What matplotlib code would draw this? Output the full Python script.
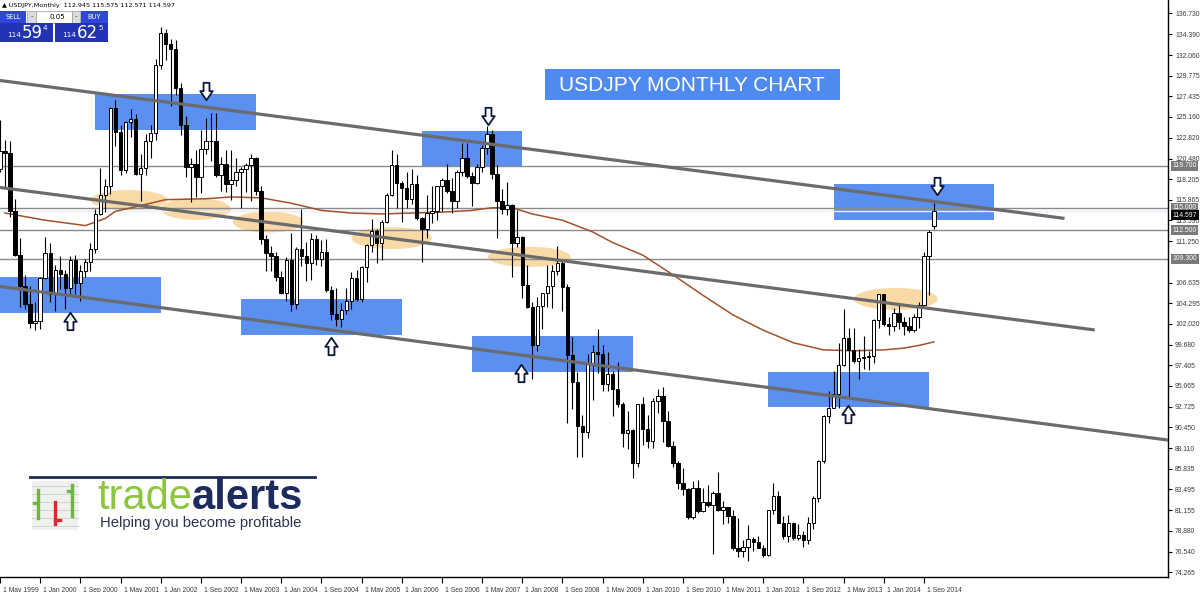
import matplotlib
matplotlib.use('Agg')
import matplotlib.pyplot as plt
from matplotlib.patches import Rectangle, Ellipse
from matplotlib.path import Path
from matplotlib import transforms
import numpy as np
import pandas as pd

plt.rcParams['font.family'] = ['DejaVu Sans']

# USDJPY monthly candles, May 1999 .. Nov 2014
months = pd.date_range('1999-05-01', '2014-11-01', freq='MS')
opens = [
    119.3, 121.3, 121.1, 114.6, 109.7, 106.2, 104.2, 102.1,
    102.3, 107.1, 109.9, 105.4, 108.0, 107.6, 106.0, 109.2, 106.6, 107.9, 108.9, 110.4,
    114.3, 116.4, 117.4, 126.1, 123.5, 119.2, 124.6, 124.9, 118.8, 119.4, 122.4, 123.3,
    131.0, 134.5, 133.3, 132.7, 128.4, 124.2, 119.6, 119.9, 118.4, 121.6, 122.4, 122.5,
    118.7, 119.9, 117.7, 118.1, 119.0, 119.3, 119.8, 120.6, 116.9, 111.5, 109.9, 109.6,
    107.2, 105.5, 109.1, 104.2, 110.4, 109.6, 108.8, 111.5, 109.3, 110.1, 105.8, 103.1,
    102.6, 103.6, 104.6, 107.1, 104.8, 108.4, 110.8, 112.4, 111.1, 113.4, 116.4, 119.8,
    117.8, 117.2, 116.0, 117.7, 113.9, 112.6, 114.4, 114.6, 117.4, 118.1, 116.9, 115.8,
    119.0, 120.6, 118.5, 117.8, 119.5, 121.7, 123.2, 118.8, 115.8, 114.9, 115.3, 111.1,
    111.7, 106.4, 103.9, 99.7, 104.0, 105.5, 106.2, 107.9, 108.8, 106.1, 98.5, 95.5,
    90.6, 89.9, 97.6, 98.9, 98.6, 95.3, 96.4, 94.7, 93.0, 89.8, 90.1, 86.4,
    93.0, 90.3, 88.9, 93.4, 94.0, 91.2, 88.4, 86.4, 84.2, 83.5, 80.4, 83.7,
    81.1, 82.1, 81.8, 83.1, 81.2, 81.5, 80.5, 77.0, 76.6, 77.1, 78.0, 77.6,
    76.9, 76.2, 81.2, 82.8, 79.8, 78.3, 79.8, 78.1, 78.4, 77.9, 79.8, 82.5,
    86.7, 91.7, 92.6, 94.2, 97.4, 100.4, 99.1, 97.9, 98.2, 98.3, 98.4, 102.4,
    105.3, 102.0, 101.8, 103.2, 102.2, 101.8, 101.3, 102.8, 104.1, 109.6, 112.945,
]
highs = [
    124.8, 122.6, 122.5, 116.0, 111.6, 107.5, 106.2, 104.5,
    107.3, 111.7, 111.0, 108.6, 109.6, 108.0, 109.6, 109.7, 108.6, 109.3, 111.0, 114.8,
    119.4, 118.2, 126.3, 127.0, 124.2, 124.7, 126.0, 125.5, 121.0, 123.2, 124.2, 131.6,
    135.2, 135.0, 133.9, 133.7, 128.9, 125.3, 120.6, 121.4, 123.7, 125.0, 125.6, 125.6,
    120.7, 121.4, 121.4, 120.6, 119.5, 120.0, 121.0, 120.7, 117.4, 112.0, 110.7, 110.0,
    107.9, 109.5, 112.2, 110.6, 114.9, 111.2, 112.2, 111.9, 111.4, 111.5, 106.3, 106.0,
    104.3, 106.0, 107.8, 108.0, 108.5, 110.9, 113.7, 112.6, 113.6, 116.6, 121.4, 121.0,
    118.0, 119.0, 119.3, 118.6, 114.0, 116.4, 117.4, 117.4, 118.3, 119.9, 118.3, 119.2,
    122.2, 122.2, 119.0, 119.9, 122.0, 124.1, 123.7, 119.8, 117.1, 117.9, 115.4, 114.7,
    111.8, 108.6, 104.4, 105.0, 105.5, 108.6, 108.6, 110.7, 109.3, 106.5, 100.5, 96.6,
    91.8, 98.6, 99.7, 101.4, 99.6, 98.9, 96.7, 97.8, 93.3, 92.3, 90.3, 93.1,
    93.8, 91.8, 93.7, 94.7, 94.9, 92.3, 88.9, 86.7, 85.9, 83.7, 84.4, 84.5,
    83.7, 84.0, 83.3, 85.5, 82.2, 81.5, 81.2, 80.3, 77.9, 79.5, 78.2, 78.3,
    77.3, 81.2, 84.2, 83.3, 80.5, 80.6, 79.9, 79.6, 78.8, 80.4, 82.8, 86.8,
    91.8, 94.5, 96.7, 99.9, 103.7, 101.5, 101.5, 99.2, 100.6, 99.0, 102.6, 105.4,
    105.4, 102.8, 103.8, 104.1, 102.8, 102.8, 103.1, 104.5, 110.1, 112.5, 115.575,
]
lows = [
    119.0, 117.3, 114.0, 109.6, 103.9, 103.7, 101.5, 101.3,
    101.4, 107.0, 104.5, 103.4, 105.9, 103.7, 105.3, 105.3, 104.6, 107.3, 107.9, 109.9,
    114.2, 114.5, 116.5, 121.9, 118.6, 118.9, 122.9, 118.6, 115.8, 118.6, 120.5, 122.6,
    130.5, 131.5, 126.4, 127.6, 123.1, 118.4, 115.6, 116.2, 116.6, 121.0, 120.2, 118.4,
    116.9, 116.8, 115.9, 117.4, 115.0, 116.7, 115.7, 116.4, 110.9, 107.9, 107.9, 106.8,
    105.3, 104.6, 103.4, 103.7, 108.5, 106.8, 106.9, 108.6, 108.5, 105.6, 102.4, 101.8,
    101.7, 103.1, 103.7, 104.6, 104.4, 106.7, 110.1, 108.8, 109.2, 113.3, 116.3, 115.0,
    113.4, 115.0, 115.4, 113.6, 108.9, 111.6, 113.3, 113.6, 114.6, 116.6, 114.4, 115.0,
    118.5, 118.3, 115.2, 117.6, 119.0, 121.0, 118.2, 111.6, 114.3, 114.2, 107.2, 110.6,
    104.9, 103.8, 95.8, 99.0, 101.4, 103.9, 103.8, 107.5, 103.5, 90.9, 92.5, 87.1,
    87.1, 89.3, 93.5, 96.5, 94.5, 94.5, 91.7, 92.7, 88.2, 88.0, 84.8, 86.0,
    88.5, 88.1, 88.1, 92.0, 88.8, 88.2, 86.0, 83.6, 82.9, 80.2, 80.2, 80.9,
    81.0, 81.5, 76.3, 81.1, 79.6, 79.7, 76.7, 75.9, 75.9, 75.5, 76.6, 76.9,
    76.0, 76.1, 80.8, 79.8, 78.0, 77.6, 77.9, 77.9, 77.1, 77.4, 79.1, 82.1,
    86.5, 90.9, 92.6, 92.6, 97.3, 93.8, 97.6, 95.8, 97.0, 96.9, 97.6, 101.6,
    101.8, 100.8, 101.2, 101.4, 100.8, 101.1, 101.1, 101.5, 104.0, 105.2, 112.571,
]
closes = [
    121.3, 121.1, 114.6, 109.7, 106.2, 104.2, 102.1, 102.3,
    107.1, 109.9, 105.4, 108.0, 107.6, 106.0, 109.2, 106.6, 107.9, 108.9, 110.4, 114.3,
    116.4, 117.4, 126.1, 123.5, 119.2, 124.6, 124.9, 118.8, 119.4, 122.4, 123.3, 131.0,
    134.5, 133.3, 132.7, 128.4, 124.2, 119.6, 119.9, 118.4, 121.6, 122.4, 122.5, 118.7,
    119.9, 117.7, 118.1, 119.0, 119.3, 119.8, 120.6, 116.9, 111.5, 109.9, 109.6, 107.2,
    105.5, 109.1, 104.2, 110.4, 109.6, 108.8, 111.5, 109.3, 110.1, 105.8, 103.1, 102.6,
    103.6, 104.6, 107.1, 104.8, 108.4, 110.8, 112.4, 111.1, 113.4, 116.4, 119.8, 117.8,
    117.2, 116.0, 117.7, 113.9, 112.6, 114.4, 114.6, 117.4, 118.1, 116.9, 115.8, 119.0,
    120.6, 118.5, 117.8, 119.5, 121.7, 123.2, 118.8, 115.8, 114.9, 115.3, 111.1, 111.7,
    106.4, 103.9, 99.7, 104.0, 105.5, 106.2, 107.9, 108.8, 106.1, 98.5, 95.5, 90.6,
    89.9, 97.6, 98.9, 98.6, 95.3, 96.4, 94.7, 93.0, 89.8, 90.1, 86.4, 93.0,
    90.3, 88.9, 93.4, 94.0, 91.2, 88.4, 86.4, 84.2, 83.5, 80.4, 83.7, 81.1,
    82.1, 81.8, 83.1, 81.2, 81.5, 80.5, 77.0, 76.6, 77.1, 78.0, 77.6, 76.9,
    76.2, 81.2, 82.8, 79.8, 78.3, 79.8, 78.1, 78.4, 77.9, 79.8, 82.5, 86.7,
    91.7, 92.6, 94.2, 97.4, 100.4, 99.1, 97.9, 98.2, 98.3, 98.4, 102.4, 105.3,
    102.0, 101.8, 103.2, 102.2, 101.8, 101.3, 102.8, 104.1, 109.6, 112.3, 114.597,
]

# brown moving average
ma_months = ['1999-06', '2000-02', '2000-10', '2001-02', '2001-04', '2001-08', '2002-02',
             '2002-10', '2003-03', '2003-09', '2004-03', '2004-09', '2005-03', '2005-09',
             '2006-03', '2006-09', '2007-03', '2007-07', '2007-11', '2008-03', '2008-09',
             '2009-03', '2009-07', '2010-01', '2010-07', '2011-01', '2011-07', '2012-01',
             '2012-07', '2013-01', '2013-07', '2014-01', '2014-05', '2014-08', '2014-11']
ma_values = [114.4, 113.6, 113.0, 113.8, 114.6, 115.1, 115.9,
             116.0, 116.2, 116.1, 115.5, 114.7, 114.4, 114.3,
             114.4, 114.5, 114.7, 115.0, 115.0, 114.3, 113.6,
             112.3, 111.1, 109.7, 107.5, 105.2, 103.0, 101.3,
             99.9, 99.1, 99.0, 99.1, 99.3, 99.6, 100.0]

levels = [119.7, 115.0, 112.5, 109.3]
bid = 114.597
price_ticks = [136.730, 134.390, 132.060, 129.775, 127.435, 125.160, 122.820, 120.480,
               118.205, 115.865, 113.590, 111.250, 106.635, 104.295, 102.020, 99.680,
               97.405, 95.065, 92.725, 90.450, 88.110, 85.835, 83.495, 81.155, 78.880,
               76.540, 74.265]

# blue zones: start month, end month, low, high
zone_start = ['2000-12', '1999-04', '2003-05', '2006-05', '2007-03', '2012-02', '2013-03']
zone_end = ['2003-08', '2002-01', '2006-01', '2008-01', '2009-11', '2014-10', '2015-11']
zone_low = [123.7, 103.25, 100.8, 119.65, 96.6, 92.7, 113.6]
zone_high = [127.7, 107.2, 104.8, 123.6, 100.65, 96.65, 117.6]

# orange ellipses: centre month, centre price, width (months), height (price)
oval_month = [17.7, 31.0, 45.4, 70.0, 97.4, 170.4]
oval_price = [115.85, 114.85, 113.4, 111.6, 109.5, 104.8]
oval_w = [15.3, 13.9, 14.0, 16.0, 16.5, 16.7]
oval_h = [2.25, 2.45, 2.35, 2.45, 2.25, 2.45]

# channel lines (start month, start price, end month, end price)
trend_lines = [('1999-05', 129.22, '2017-01', 113.8),
               ('1999-05', 117.26, '2017-07', 101.33),
               ('1999-05', 106.19, '2019-06', 88.4)]

# arrows: month, price
down_arrows = [(33.1, 128.0), (89.1, 125.2), (178.6, 117.4)]
up_arrows = [(5.95, 102.3), (57.9, 99.5), (95.8, 96.5), (160.9, 91.9)]


def mi(s):
    d = pd.Timestamp(s)
    return (d.year - 2000) * 12 + d.month - 1


W, H = 1200, 592
fig = plt.figure(figsize=(W / 100, H / 100), dpi=100)
ax = fig.add_axes([0, 15 / H, 1168 / W, 577 / H])

x = np.array([mi(d) for d in months])
o, h, l, c = map(np.array, (opens, highs, lows, closes))
up = c >= o

for s, e, lo, hi in zip(zone_start, zone_end, zone_low, zone_high):
    ax.add_patch(Rectangle((mi(s), lo), mi(e) - mi(s), hi - lo,
                           facecolor='#5b8ff0', edgecolor='none', zorder=1))
for mx, py, w, hh in zip(oval_month, oval_price, oval_w, oval_h):
    ax.add_patch(Ellipse((mx, py), w, hh, facecolor='#f9d9a6', edgecolor='none', zorder=1.2))

for lv in levels:
    ax.axhline(lv, color='#8a8a8a', lw=1.0, zorder=2)
ax.axhline(bid, color='#e8eefc', lw=1.0, zorder=2.1)

ax.plot([mi(m) for m in ma_months], ma_values, color='#a0522d', lw=1.1, zorder=2.5)

ax.vlines(x, l, h, color='black', lw=0.8, zorder=3)
ax.bar(x[up], np.maximum((c - o)[up], 0.08), bottom=o[up], width=0.68,
       color='white', edgecolor='black', lw=0.7, zorder=4)
ax.bar(x[~up], np.maximum((o - c)[~up], 0.08), bottom=c[~up], width=0.68,
       color='black', edgecolor='black', lw=0.7, zorder=4)

for s0, p0, s1, p1 in trend_lines:
    ax.plot([mi(s0), mi(s1)], [p0, p1], color='#6b6b6b', lw=2.3,
            solid_capstyle='butt', zorder=5)

# hollow block arrows
down_shape = Path([(-0.17, 0.5), (0.17, 0.5), (0.17, 0.02), (0.36, 0.02), (0, -0.5),
                   (-0.36, 0.02), (-0.17, 0.02), (-0.17, 0.5)],
                  [Path.MOVETO] + [Path.LINETO] * 6 + [Path.CLOSEPOLY])
up_shape = Path([(vx, -vy) for vx, vy in down_shape.vertices], down_shape.codes)
ax.plot([a[0] for a in down_arrows], [a[1] for a in down_arrows], ls='none',
        marker=down_shape, markersize=12.5, mfc='white', mec='#0c1838', mew=1.3, zorder=6)
ax.plot([a[0] for a in up_arrows], [a[1] for a in up_arrows], ls='none',
        marker=up_shape, markersize=12.5, mfc='white', mec='#0c1838', mew=1.3, zorder=6)

# axes
ax.set_xlim(-36 / 5.04, 1132 / 5.04)
ax.set_ylim(73.71, 138.22)
for side in ('left', 'top'):
    ax.spines[side].set_visible(False)
for side in ('right', 'bottom'):
    ax.spines[side].set_color('black')
    ax.spines[side].set_linewidth(1)

lab_font = dict(family='Liberation Sans', size=4.9)
ax.yaxis.tick_right()
ax.set_yticks(price_ticks)
ax.set_yticklabels(['%.3f' % v for v in price_ticks], fontdict=lab_font)
ax.tick_params(axis='y', length=3, width=0.8, pad=2, labelcolor='#3a3a3a')

tick_dates = pd.date_range('1999-05-01', '2014-09-01', freq='8MS')
ax.set_xticks([mi(d) for d in tick_dates])
ax.set_xticklabels(['1 ' + d.strftime('%b %Y') for d in tick_dates], fontdict=lab_font)
ax.tick_params(axis='x', length=4, width=0.8, pad=3, labelcolor='#3a3a3a')
shift = transforms.ScaledTranslation(3 / 100, 0, fig.dpi_scale_trans)
for lbl in ax.get_xticklabels():
    lbl.set_horizontalalignment('left')
    lbl.set_transform(lbl.get_transform() + shift)

# highlighted price labels on the right scale
tr = transforms.blended_transform_factory(ax.transAxes, ax.transData)
for lv in levels:
    ax.text(1.004, lv, '%.3f' % lv, transform=tr, color='white',
            ha='left', va='center', clip_on=False, zorder=7, **lab_font,
            bbox=dict(boxstyle='square,pad=0.22', fc='#7a7a7a', ec='none'))
ax.text(1.004, bid - 0.45, '%.3f' % bid, transform=tr, color='white',
        ha='left', va='center', clip_on=False, zorder=7, **lab_font,
        bbox=dict(boxstyle='square,pad=0.22', fc='black', ec='none'))

# title box
fig.add_artist(Rectangle((545 / W, 1 - 100 / H), 295 / W, 31 / H,
                         transform=fig.transFigure, facecolor='#4f8bef', edgecolor='none'))
fig.text(692 / W, 1 - 85 / H, 'USDJPY MONTHLY CHART', fontsize=15, color='white',
         family='Liberation Sans', ha='center', va='center')


def fpx(px, py):
    return px / W, 1 - py / H


def fbox(x0, y0, x1, y1, fc, ec='none', lw=0.8):
    fig.add_artist(Rectangle(fpx(x0, y1), (x1 - x0) / W, (y1 - y0) / H,
                             transform=fig.transFigure, facecolor=fc, edgecolor=ec, lw=lw))


# MT4 one-click trading panel
fig.text(*fpx(2, 5), '\u25b2 USDJPY,Monthly  112.945 115.575 112.571 114.597',
         fontsize=4.6, color='black', va='center')
fbox(0, 11, 26, 23, '#2f47d8')
fbox(27, 11, 36, 23, '#dcdcdc', '#9a9a9a', 0.5)
fbox(36, 11, 72, 23, 'white', '#9a9a9a', 0.5)
fbox(72, 11, 80, 23, '#dcdcdc', '#9a9a9a', 0.5)
fbox(81, 11, 108, 23, '#2f47d8')
fig.text(*fpx(13, 17), 'SELL', fontsize=4.8, color='white', ha='center', va='center')
fig.text(*fpx(31.5, 16.5), '-', fontsize=5, color='#333333', ha='center', va='center')
fig.text(*fpx(65, 17), '0.05', fontsize=5, color='black', ha='right', va='center')
fig.text(*fpx(76, 16.5), '-', fontsize=5, color='#333333', ha='center', va='center')
fig.text(*fpx(94.5, 17), 'BUY', fontsize=4.8, color='white', ha='center', va='center')
fbox(0, 23, 53, 42, '#2234b4')
fbox(55, 23, 108, 42, '#2234b4')
for x0, big, small in ((7, '59', '4'), (62, '62', '5')):
    fig.text(*fpx(x0, 35), '114', fontsize=5.2, color='white', va='center')
    fig.text(*fpx(x0 + 15, 33), big, fontsize=12, color='white', va='center')
    fig.text(*fpx(x0 + 36, 27.5), small, fontsize=5.2, color='white', va='center')

# tradealerts logo
fig.add_artist(plt.Line2D([30 / W, 315 / W], [1 - 477 / H] * 2,
                          transform=fig.transFigure, color='#1d2b5a', lw=2))
fbox(32, 481, 78, 530, '#eef1ee')
for gy in range(486, 530, 8):
    fig.add_artist(plt.Line2D([32 / W, 78 / W], [1 - gy / H] * 2,
                              transform=fig.transFigure, color='#c9cfc9', lw=0.6))
for bx, y0, y1, ty, dx, col in ((38, 490, 518, 503, -4, '#6fb43f'),
                                (55, 502, 524, 520, 5, '#e0262b'),
                                (72, 485, 516, 491, -4, '#6fb43f')):
    fig.add_artist(plt.Line2D([bx / W] * 2, [1 - y0 / H, 1 - y1 / H],
                              transform=fig.transFigure, color=col, lw=2.4))
    fig.add_artist(plt.Line2D([bx / W, (bx + dx) / W], [1 - ty / H] * 2,
                              transform=fig.transFigure, color=col, lw=2.4))
t1 = fig.text(*fpx(97, 509), 'trade', fontsize=30, color='#8cc63f',
              family='Liberation Sans', va='baseline')
ax.annotate('alerts', xy=(1, 0), xycoords=t1, xytext=(0, 0), textcoords='offset points',
            fontsize=30, color='#1e2b5e', family='Liberation Sans', fontweight='bold',
            ha='left', va='bottom', annotation_clip=False)
fig.text(*fpx(100, 523), 'Helping you become profitable', fontsize=10.7, color='#2a3350',
         family='Liberation Sans', va='center')

fig.savefig('out.png', dpi=100)
